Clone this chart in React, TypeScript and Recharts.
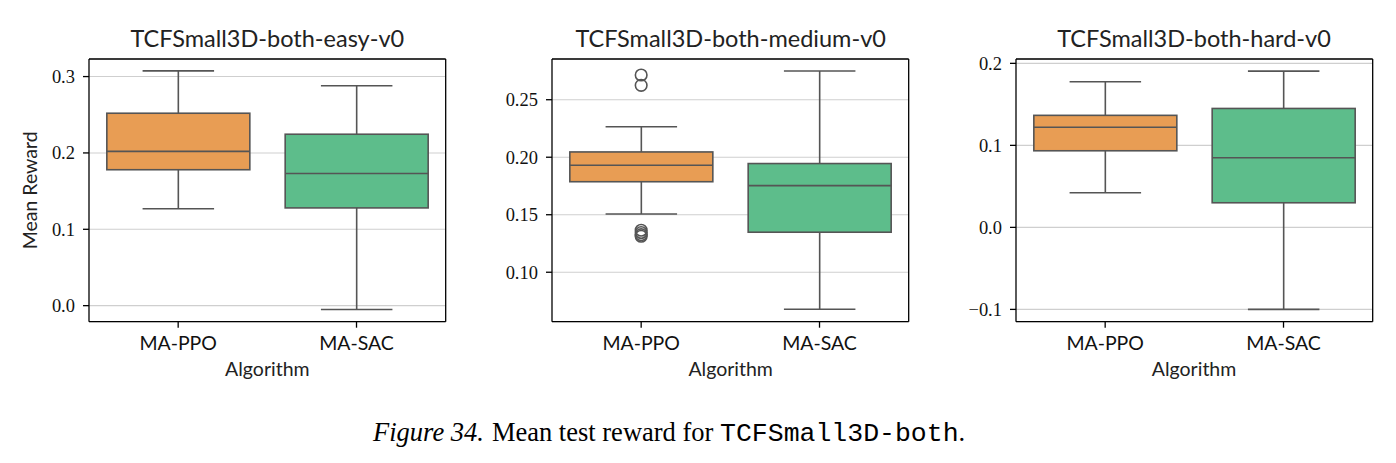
import React from 'react';
import { ComposedChart, Bar, Line, XAxis, YAxis, CartesianGrid } from 'recharts';

// ---------- data ----------
const ALGORITHMS = ['MA-PPO', 'MA-SAC'];
const PANEL_TITLES = ['TCFSmall3D-both-easy-v0', 'TCFSmall3D-both-medium-v0', 'TCFSmall3D-both-hard-v0'];

const easyLow = [0.127, -0.005];
const easyQ1 = [0.178, 0.128];
const easyMedian = [0.202, 0.173];
const easyQ3 = [0.252, 0.2245];
const easyHigh = [0.3075, 0.288];
const easyOutliers: number[][] = [[], []];
const easyTicks = [0, 0.1, 0.2, 0.3];
const easyDomain = [-0.021, 0.323];

const mediumLow = [0.1506, 0.0678];
const mediumQ1 = [0.1787, 0.1348];
const mediumMedian = [0.193, 0.1753];
const mediumQ3 = [0.2046, 0.1945];
const mediumHigh = [0.2265, 0.275];
const mediumOutliers: number[][] = [[0.2715, 0.2625, 0.1365, 0.1345, 0.1327, 0.1313], []];
const mediumTicks = [0.1, 0.15, 0.2, 0.25];
const mediumDomain = [0.057, 0.2854];

const hardLow = [0.0422, -0.1];
const hardQ1 = [0.0934, 0.03];
const hardMedian = [0.122, 0.0849];
const hardQ3 = [0.1366, 0.145];
const hardHigh = [0.1776, 0.1905];
const hardOutliers: number[][] = [[], []];
const hardTicks = [-0.1, 0, 0.1, 0.2];
const hardDomain = [-0.115, 0.2053];

const BOX_COLORS = ['#E89D54', '#5DBD8B'];
const LINE_GRAY = '#555555';
const MAX_OUTLIERS = 6;

function buildRows(low: number[], q1: number[], med: number[], q3: number[], high: number[], outs: number[][]) {
  return ALGORITHMS.map((alg, i) => {
    const row: any = { alg, lo: low[i], q1: q1[i], med: med[i], q3: q3[i], hi: high[i], idx: i };
    for (let k = 0; k < MAX_OUTLIERS; k++) row['o' + k] = outs[i][k] ?? null;
    return row;
  });
}

const panelsData = [
  { rows: buildRows(easyLow, easyQ1, easyMedian, easyQ3, easyHigh, easyOutliers), ticks: easyTicks, domain: easyDomain, dec: 1 },
  { rows: buildRows(mediumLow, mediumQ1, mediumMedian, mediumQ3, mediumHigh, mediumOutliers), ticks: mediumTicks, domain: mediumDomain, dec: 2 },
  { rows: buildRows(hardLow, hardQ1, hardMedian, hardQ3, hardHigh, hardOutliers), ticks: hardTicks, domain: hardDomain, dec: 1 },
];

// ---------- layout ----------
const PLOT_LEFTS = [89, 552.3, 1015.7];
const PLOT_W = 356.7;
const PLOT_TOP = 59;
const PLOT_BOTTOM = 321.7;
const Y_AXIS_W = 80;
const X_AXIS_H = 50;
const CHART_H = 400;
const RIGHT_M = 6;

const SANS = 'Lato, "Open Sans", sans-serif';
const SERIF = '"Liberation Serif", "DejaVu Serif", serif';
const AXIS_STROKE = { stroke: '#000', strokeWidth: 1.3 };

function BoxShape(props: any) {
  const { x, y, width, height, payload } = props;
  if (payload == null) return null;
  const top = Math.min(y, y + height);
  const h = Math.abs(height);
  const { lo, hi, q1, q3, med, idx } = payload;
  const py = (v: number) => top + ((hi - v) / (hi - lo)) * h;
  const cx = x + width / 2;
  const cap = width / 4;
  const sw = 1.6;
  return (
    <g>
      <line x1={cx} x2={cx} y1={py(hi)} y2={py(lo)} stroke={LINE_GRAY} strokeWidth={sw} />
      <line x1={cx - cap} x2={cx + cap} y1={py(hi)} y2={py(hi)} stroke={LINE_GRAY} strokeWidth={sw} />
      <line x1={cx - cap} x2={cx + cap} y1={py(lo)} y2={py(lo)} stroke={LINE_GRAY} strokeWidth={sw} />
      <rect x={x} y={py(q3)} width={width} height={py(q1) - py(q3)} fill={BOX_COLORS[idx]} stroke={LINE_GRAY} strokeWidth={sw} />
      <line x1={x} x2={x + width} y1={py(med)} y2={py(med)} stroke={LINE_GRAY} strokeWidth={sw} />
    </g>
  );
}

function Panel({ p, i }: { p: any; i: number }) {
  const chartW = Y_AXIS_W + PLOT_W + RIGHT_M;
  const fmt = (v: number) => v.toFixed(p.dec).replace('-', '\u2212');
  return (
    <div style={{ position: 'absolute', left: PLOT_LEFTS[i] - Y_AXIS_W, top: 0 }}>
      <ComposedChart
        width={chartW}
        height={CHART_H}
        data={p.rows}
        margin={{ top: PLOT_TOP - 1, right: RIGHT_M - 1, left: 0, bottom: CHART_H - PLOT_BOTTOM - X_AXIS_H }}
        barCategoryGap="10%"
      >
        <CartesianGrid vertical={false} stroke="#cfcfcf" strokeWidth={1.1} />
        <XAxis
          dataKey="alg"
          height={X_AXIS_H}
          axisLine={AXIS_STROKE}
          tickLine={AXIS_STROKE}
          tickSize={6}
          tickMargin={8}
          tick={{ fontFamily: SANS, fontSize: 19.5, fill: '#111' }}
        />
        <XAxis
          xAxisId="top"
          orientation="top"
          dataKey="alg"
          height={1}
          tick={false}
          tickLine={false}
          axisLine={AXIS_STROKE}
        />
        <YAxis
          width={Y_AXIS_W}
          type="number"
          domain={p.domain}
          ticks={p.ticks}
          allowDataOverflow
          tickFormatter={fmt}
          axisLine={AXIS_STROKE}
          tickLine={AXIS_STROKE}
          tickSize={6}
          tickMargin={8}
          tick={{ fontFamily: SERIF, fontSize: 18.5, fill: '#111' }}
        />
        <YAxis
          yAxisId="right"
          orientation="right"
          width={1}
          type="number"
          domain={p.domain}
          allowDataOverflow
          tick={false}
          tickLine={false}
          axisLine={AXIS_STROKE}
        />
        <Bar dataKey={(d: any) => [d.lo, d.hi]} shape={BoxShape} isAnimationActive={false} />
        {Array.from({ length: MAX_OUTLIERS }).map((_, k) => (
          <Line
            key={k}
            dataKey={'o' + k}
            stroke="none"
            connectNulls={false}
            dot={{ r: 5.8, fill: 'none', stroke: LINE_GRAY, strokeWidth: 1.6 }}
            activeDot={false}
            isAnimationActive={false}
          />
        ))}
      </ComposedChart>
    </div>
  );
}

export default function App() {
  return (
    <div style={{ position: 'absolute', left: 0, top: 0, width: 1396, height: 463, background: '#fff' }}>
      {panelsData.map((p, i) => (
        <Panel key={i} p={p} i={i} />
      ))}
      <svg width={1396} height={463} style={{ position: 'absolute', left: 0, top: 0, pointerEvents: 'none' }}>
        {PANEL_TITLES.map((t, i) => (
          <text key={t} x={PLOT_LEFTS[i] + PLOT_W / 2} y={47} textAnchor="middle" fontFamily={SANS} fontSize={23.5} fill="#222">
            {t}
          </text>
        ))}
        {PLOT_LEFTS.map((l, i) => (
          <text key={'xl' + i} x={l + PLOT_W / 2} y={376} textAnchor="middle" fontFamily={SANS} fontSize={19.5} fill="#222">
            Algorithm
          </text>
        ))}
        <text
          x={37}
          y={(PLOT_TOP + PLOT_BOTTOM) / 2}
          transform={`rotate(-90, 37, ${(PLOT_TOP + PLOT_BOTTOM) / 2})`}
          textAnchor="middle"
          fontFamily={SANS}
          fontSize={19.5}
          fill="#222"
        >
          Mean Reward
        </text>
        <text x={373} y={441} fontFamily={SERIF} fontSize={26.5} fill="#000">
          <tspan fontStyle="italic">Figure 34.</tspan>
          <tspan dx={8}>Mean test reward for </tspan>
          <tspan fontFamily={'"Liberation Mono", "DejaVu Sans Mono", monospace'}>TCFSmall3D-both</tspan>
          <tspan>.</tspan>
        </text>
      </svg>
    </div>
  );
}
